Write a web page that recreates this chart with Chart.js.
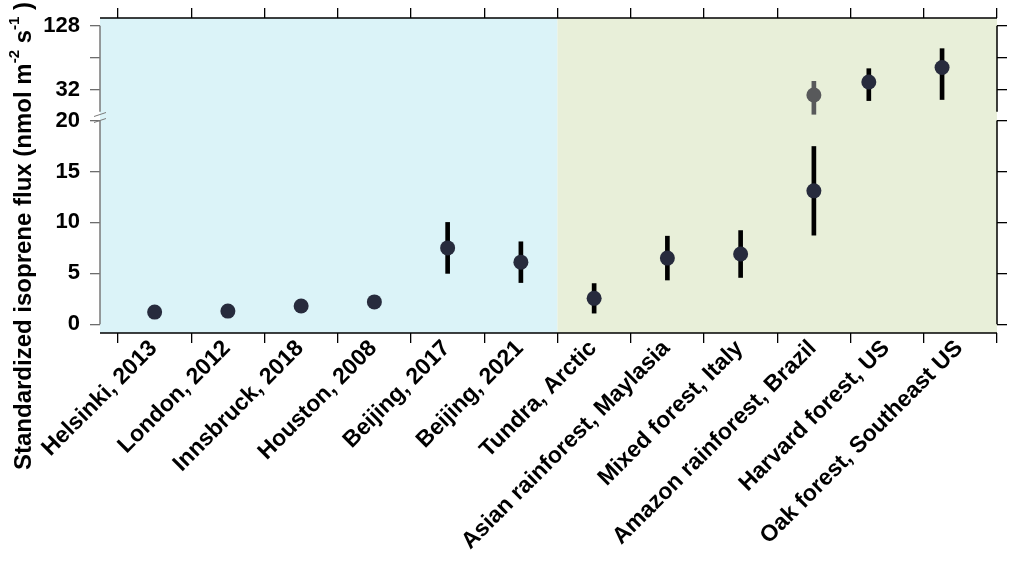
<!DOCTYPE html>
<html>
<head>
<meta charset="utf-8">
<script src="https://cdn.jsdelivr.net/npm/chart.js@4"></script>
<style>
  html, body { margin: 0; padding: 0; background: #fff; }
  #wrap { width: 1024px; height: 565px; }
</style>
</head>
<body>
<div id="wrap"><canvas id="fluxChart"></canvas></div>
<script>
// sites along the x axis
const sites = ["Helsinki, 2013", "London, 2012", "Innsbruck, 2018", "Houston, 2008", "Beijing, 2017",
  "Beijing, 2021", "Tundra, Arctic", "Asian rainforest, Maylasia", "Mixed forest, Italy",
  "Amazon rainforest, Brazil", "Harvard forest, US", "Oak forest, Southeast US"];

// lower panel (linear 0-20)
const lowPos = [0, 1, 2, 3, 4, 5, 6, 7, 8, 9];
const lowFlux = [1.2, 1.3, 1.8, 2.2, 7.5, 6.1, 2.55, 6.5, 6.9, 13.1];
const lowErr = [null, null, null, null, 2.5, 2.0, 1.45, 2.15, 2.3, 4.35];

// upper panel (log, above the break)
const highPos = [9, 9.75, 10.75];
const highFlux = [28.7, 38, 52];
const highErr = [9.8, 12.6, 26];
const highColors = ["#58595b", "#272b3d", "#272b3d"];
const highBarColors = ["#58595b", "#000000", "#000000"];

const lowTicks = [0, 5, 10, 15, 20];
const highTicks = [32, 64, 128];
const highTickLabels = ["32", "", "128"];
const urbanEnd = 5.5; // cities | ecosystems split

const boundaries = sites.map((s, i) => i - 0.5).concat([sites.length - 0.5]);
const centers = sites.map((s, i) => i);

const FONT = "'Liberation Sans', Arial, sans-serif";
const DOT = "#272b3d";

function errBars(pos, flux, err) {
  const out = [];
  pos.forEach((x, i) => {
    if (err[i] == null) return;
    out.push({ x: x, y: [flux[i] - err[i], flux[i] + err[i]] });
  });
  return out;
}

// fixed box sizes, no extra label padding so the plot area stays put
function fixSize(w, h) {
  return s => {
    if (w != null) s.width = w;
    if (h != null) s.height = h;
    s.paddingTop = s.paddingBottom = s.paddingLeft = s.paddingRight = 0;
  };
}

// backgrounds, axis lines, break marks and y title
const decor = {
  id: "decor",
  beforeDatasetsDraw(chart) {
    const { ctx, chartArea: a, scales } = chart;
    const split = scales.x.getPixelForValue(urbanEnd);
    ctx.save();
    ctx.fillStyle = "#dbf3f8";
    ctx.fillRect(a.left, a.top, split - a.left, a.bottom - a.top);
    ctx.fillStyle = "#e8efd9";
    ctx.fillRect(split, a.top, a.right - split, a.bottom - a.top);
    ctx.restore();
  },
  afterDraw(chart) {
    const { ctx, chartArea: a, scales } = chart;
    ctx.save();
    ctx.lineWidth = 1.5;
    ctx.strokeStyle = "#000";
    ctx.beginPath();
    ctx.moveTo(a.left, a.top); ctx.lineTo(a.right, a.top);
    ctx.moveTo(a.left, a.bottom); ctx.lineTo(a.right, a.bottom);
    // right axis
    ctx.moveTo(a.right, scales.yHighR.getPixelForValue(128)); ctx.lineTo(a.right, scales.yHighR.getPixelForValue(20));
    ctx.moveTo(a.right, scales.yLowR.getPixelForValue(20)); ctx.lineTo(a.right, scales.yLowR.getPixelForValue(0));
    ctx.stroke();
    // left axis (grey)
    ctx.strokeStyle = "#7a7a7a";
    ctx.beginPath();
    ctx.moveTo(a.left, scales.yHigh.getPixelForValue(128)); ctx.lineTo(a.left, scales.yHigh.getPixelForValue(20));
    ctx.moveTo(a.left, scales.yLow.getPixelForValue(20)); ctx.lineTo(a.left, scales.yLow.getPixelForValue(0));
    ctx.stroke();
    // break marks
    const yb = scales.yLow.getPixelForValue(20);
    ctx.lineWidth = 1;
    ctx.beginPath();
    ctx.moveTo(a.left - 6, yb - 4); ctx.lineTo(a.left + 6, yb - 8);
    ctx.moveTo(a.left - 6, yb + 2); ctx.lineTo(a.left + 6, yb - 2);
    ctx.stroke();

    // y title with superscripts
    const parts = [
      ["Standardized isoprene flux (nmol m", false],
      ["-2", true],
      [" s", false],
      ["-1", true],
      [" )", false]
    ];
    const mainFont = "bold 24px " + FONT;
    const supFont = "bold 15px " + FONT;
    let total = 0;
    parts.forEach(p => { ctx.font = p[1] ? supFont : mainFont; total += ctx.measureText(p[0]).width; });
    ctx.translate(31, 236);
    ctx.rotate(-Math.PI / 2);
    ctx.fillStyle = "#000";
    ctx.textBaseline = "alphabetic";
    let cx = -total / 2;
    parts.forEach(p => {
      ctx.font = p[1] ? supFont : mainFont;
      ctx.fillText(p[0], cx, p[1] ? -12 : 0);
      cx += ctx.measureText(p[0]).width;
    });
    ctx.restore();
  }
};

const yTickFont = { family: FONT, size: 22, weight: "bold" };

new Chart(document.getElementById("fluxChart"), {
  type: "scatter",
  data: {
    datasets: [
      {
        type: "bar", data: errBars(lowPos, lowFlux, lowErr), xAxisID: "x", yAxisID: "yLow",
        backgroundColor: "#000", barThickness: 4, grouped: false, order: 2
      },
      {
        type: "bar", data: errBars(highPos, highFlux, highErr), xAxisID: "x", yAxisID: "yHigh",
        backgroundColor: highBarColors, barThickness: 4, grouped: false, order: 2
      },
      {
        data: lowPos.map((x, i) => ({ x: x, y: lowFlux[i] })), xAxisID: "x", yAxisID: "yLow",
        pointRadius: 7.5, pointBackgroundColor: DOT, pointBorderWidth: 0, order: 1
      },
      {
        data: highPos.map((x, i) => ({ x: x, y: highFlux[i] })), xAxisID: "x", yAxisID: "yHigh",
        pointRadius: 7.5, pointBackgroundColor: highColors, pointBorderWidth: 0, order: 1
      }
    ]
  },
  options: {
    responsive: true,
    maintainAspectRatio: false,
    animation: false,
    layout: { padding: 0 },
    plugins: { legend: { display: false }, tooltip: { enabled: false } },
    scales: {
      x: {
        type: "linear", position: "bottom", min: -0.746, max: 11.5, offset: false,
        afterBuildTicks: s => { s.ticks = boundaries.concat(centers).sort((p, q) => p - q).map(v => ({ value: v })); },
        afterFit: fixSize(null, 232),
        grid: {
          offset: false, drawOnChartArea: false, drawTicks: true, tickLength: 10, lineWidth: 1.3,
          tickColor: c => (c.tick && Number.isInteger(c.tick.value)) ? "rgba(0,0,0,0)" : "#000"
        },
        border: { display: false },
        ticks: {
          autoSkip: false, minRotation: 45, maxRotation: 45, padding: -8, labelOffset: -1,
          color: "#000", font: { family: FONT, size: 23, weight: "bold" },
          callback: v => Number.isInteger(v) ? sites[v] : ""
        }
      },
      x2: {
        type: "linear", position: "top", min: -0.746, max: 11.5, offset: false,
        afterBuildTicks: s => { s.ticks = boundaries.map(v => ({ value: v })); },
        afterFit: fixSize(null, 18),
        grid: { drawOnChartArea: false, tickLength: 10, tickColor: "#000", lineWidth: 1.3 },
        border: { display: false },
        ticks: { display: false }
      },
      yLow: {
        type: "linear", position: "left", stack: "L", stackWeight: 213, weight: 0,
        min: -0.85, max: 20.05, beginAtZero: false,
        afterBuildTicks: s => { s.ticks = lowTicks.map(v => ({ value: v })); },
        afterFit: fixSize(100, null),
        grid: { drawOnChartArea: false, tickLength: 10, tickColor: "#6d6d6d", lineWidth: 1.3 },
        border: { display: false },
        ticks: { padding: 10, color: "#000", font: yTickFont }
      },
      yHigh: {
        type: "logarithmic", position: "left", stack: "L", stackWeight: 102, weight: 1,
        min: 16.7, max: 151.3, beginAtZero: false,
        afterBuildTicks: s => { s.ticks = highTicks.map(v => ({ value: v })); },
        afterFit: fixSize(100, null),
        grid: { drawOnChartArea: false, tickLength: 10, tickColor: "#6d6d6d", lineWidth: 1.3 },
        border: { display: false },
        ticks: { padding: 10, color: "#000", font: yTickFont, callback: v => highTickLabels[highTicks.indexOf(v)] }
      },
      yHighR: {
        type: "logarithmic", position: "right", stack: "R", stackWeight: 102, weight: 0,
        min: 16.7, max: 151.3, beginAtZero: false,
        afterBuildTicks: s => { s.ticks = highTicks.map(v => ({ value: v })); },
        afterFit: fixSize(27, null),
        grid: { drawOnChartArea: false, tickLength: 10, tickColor: "#000", lineWidth: 1.3 },
        border: { display: false },
        ticks: { display: false }
      },
      yLowR: {
        type: "linear", position: "right", stack: "R", stackWeight: 213, weight: 1,
        min: -0.85, max: 20.05, beginAtZero: false,
        afterBuildTicks: s => { s.ticks = lowTicks.map(v => ({ value: v })); },
        afterFit: fixSize(27, null),
        grid: { drawOnChartArea: false, tickLength: 10, tickColor: "#000", lineWidth: 1.3 },
        border: { display: false },
        ticks: { display: false }
      }
    }
  },
  plugins: [decor]
});
</script>
</body>
</html>
